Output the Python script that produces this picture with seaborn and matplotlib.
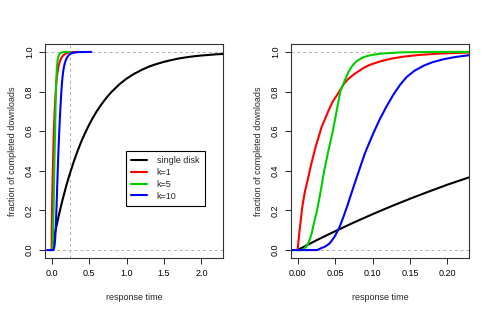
import numpy as np
import pandas as pd
import matplotlib
matplotlib.use("Agg")
import matplotlib.pyplot as plt
import seaborn as sns

# values (response time -> fraction completed)
disk_x = [0, 0.025, 0.05, 0.075, 0.1, 0.125, 0.15, 0.175, 0.2, 0.225, 0.25, 0.3,
          0.35, 0.4, 0.45, 0.5, 0.55, 0.6, 0.65, 0.7, 0.75, 0.8, 0.9, 1.0, 1.1,
          1.2, 1.3, 1.4, 1.5, 1.6, 1.7, 1.8, 1.9, 2.0, 2.1, 2.2, 2.3]
disk_y = [0, 0.049, 0.095, 0.139, 0.181, 0.221, 0.259, 0.295, 0.33, 0.362, 0.393, 0.451,
          0.503, 0.551, 0.593, 0.632, 0.667, 0.699, 0.727, 0.753, 0.777, 0.798, 0.835, 0.865, 0.889,
          0.909, 0.926, 0.939, 0.950, 0.959, 0.967, 0.973, 0.978, 0.982, 0.985, 0.988, 0.990]

k1_x = [0, 0.0013, 0.003, 0.0063, 0.0095, 0.0138, 0.018, 0.024, 0.032, 0.042,
        0.047, 0.054, 0.062, 0.068, 0.0763, 0.0875, 0.0964, 0.11, 0.125, 0.141,
        0.16, 0.186, 0.205, 0.229, 0.27, 0.35]
k1_y = [0, 0.05, 0.11, 0.219, 0.29, 0.36, 0.43, 0.52, 0.62, 0.71,
        0.75, 0.79, 0.84, 0.865, 0.89, 0.918, 0.935, 0.952, 0.966, 0.976,
        0.984, 0.991, 0.994, 0.997, 0.999, 1.0]

k5_x = [-0.05, 0.005, 0.008, 0.0116, 0.015, 0.0188, 0.022, 0.026, 0.030, 0.0355,
        0.041, 0.047, 0.052, 0.057, 0.062, 0.068, 0.073, 0.0786, 0.087, 0.0964,
        0.11, 0.125, 0.14, 0.18, 0.25]
k5_y = [0, 0, 0.005, 0.017, 0.04, 0.084, 0.14, 0.2, 0.28, 0.4,
        0.5, 0.6, 0.7, 0.8, 0.848, 0.9, 0.93, 0.953, 0.972, 0.983,
        0.991, 0.995, 0.998, 1.0, 1.0]

k10_x = [-0.06, 0.025, 0.028, 0.0317, 0.037, 0.0429, 0.049, 0.0553, 0.06, 0.066,
         0.073, 0.0808, 0.09, 0.1, 0.109, 0.1187, 0.128, 0.137, 0.1455, 0.156,
         0.168, 0.18, 0.1946, 0.21, 0.228, 0.25, 0.28, 0.35, 0.53]
k10_y = [0, 0, 0.003, 0.01, 0.018, 0.034, 0.065, 0.11, 0.155, 0.219,
         0.3, 0.388, 0.49, 0.58, 0.655, 0.725, 0.785, 0.835, 0.873, 0.905,
         0.93, 0.948, 0.963, 0.974, 0.983, 0.99, 0.995, 0.999, 1.0]

labels = ["single disk", "k=1", "k=5", "k=10"]
colors = ["#000000", "#FF0000", "#00CD00", "#0000FF"]

frames = []
for name, xs, ys in zip(labels, [disk_x, k1_x, k5_x, k10_x], [disk_y, k1_y, k5_y, k10_y]):
    frames.append(pd.DataFrame({"t": xs, "frac": ys, "series": name}))
df = pd.concat(frames, ignore_index=True)

sns.set_style("white")
plt.rcParams['font.family'] = ['Liberation Sans', 'DejaVu Sans']
fs = 6.5

fig = plt.figure(figsize=(4.92, 3.14), dpi=100)
ax1 = fig.add_axes([45 / 492, 56 / 314, 178 / 492, 214 / 314])
ax2 = fig.add_axes([291 / 492, 56 / 314, 178 / 492, 214 / 314])

panels = [(ax1, (-0.088, 2.288), [0, 0.5, 1.0, 1.5, 2.0], "{:.1f}", True),
          (ax2, (-0.0088, 0.2288), [0, 0.05, 0.10, 0.15, 0.20], "{:.2f}", False)]

for ax, xlim, xticks, fmt, show_leg in panels:
    ax.axhline(0, color="#b0b0b0", lw=0.7, ls=(0, (3, 3)), zorder=1)
    ax.axhline(1, color="#b0b0b0", lw=0.7, ls=(0, (3, 3)), zorder=1)
    if show_leg:
        ax.axvline(0.25, color="#b0b0b0", lw=0.7, ls=(0, (3, 3)), zorder=1)
    sns.lineplot(data=df, x="t", y="frac", hue="series", hue_order=labels,
                 palette=colors, estimator=None, lw=1.5, ax=ax, legend=show_leg)
    ax.set_xlim(*xlim)
    ax.set_ylim(-0.04, 1.04)
    ax.set_xticks(xticks)
    ax.set_xticklabels([fmt.format(v) for v in xticks])
    ax.set_yticks([0, 0.2, 0.4, 0.6, 0.8, 1.0])
    ax.set_yticklabels(["0.0", "0.2", "0.4", "0.6", "0.8", "1.0"], rotation=90, va="center")
    ax.tick_params(direction="out", length=4, width=0.7, colors="#222222",
                   labelsize=fs, labelcolor="black", pad=4, left=True, bottom=True)
    for s in ax.spines.values():
        s.set_color("#333333")
        s.set_linewidth(0.8)
    ax.set_xlabel("response time", fontsize=fs, labelpad=11)
    ax.set_ylabel("fraction of completed downloads", fontsize=fs, labelpad=6)

leg = ax1.legend(loc="lower left", bbox_to_anchor=(0.455, 0.243), fontsize=fs,
                 frameon=True, fancybox=False, edgecolor="black", framealpha=1,
                 handlelength=1.7, handletextpad=1.1, labelspacing=0.3,
                 borderpad=0.6, borderaxespad=0, title=None)
leg.get_frame().set_linewidth(0.8)

fig.savefig("out.png", dpi=100)
